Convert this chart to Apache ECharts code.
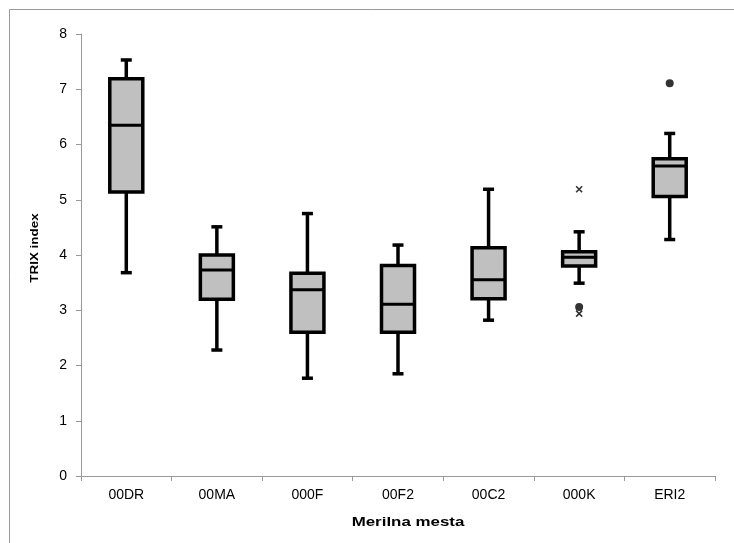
<!DOCTYPE html>
<html>
<head>
<meta charset="utf-8">
<script src="https://cdn.jsdelivr.net/npm/echarts@6/dist/echarts.min.js"></script>
<style>
  html, body { margin: 0; padding: 0; background: #fff; }
  #chart { width: 734px; height: 543px; }
</style>
</head>
<body>
<div id="chart"></div>
<script>
// Measuring sites and TRIX index box statistics
const categories = ['00DR', '00MA', '000F', '00F2', '00C2', '000K', 'ERI2'];
const whiskerLow  = [3.68, 2.28, 1.77, 1.85, 2.82, 3.49, 4.28];
const quartile1   = [5.14, 3.20, 2.60, 2.60, 3.21, 3.80, 5.06];
const medians     = [6.35, 3.73, 3.37, 3.11, 3.55, 3.96, 5.61];
const quartile3   = [7.19, 4.00, 3.67, 3.81, 4.13, 4.06, 5.74];
const whiskerHigh = [7.53, 4.51, 4.75, 4.18, 5.19, 4.42, 6.20];

// Outliers: dots and crosses
const outlierDots    = [['000K', 3.06], ['ERI2', 7.11]];
const outlierCrosses = [['000K', 5.19], ['000K', 2.94]];

const yTicks = [0, 1, 2, 3, 4, 5, 6, 7, 8];

const boxRows = categories.map((c, i) => [i, whiskerLow[i], quartile1[i], medians[i], quartile3[i], whiskerHigh[i]]);

function renderBox(params, api) {
  const idx = api.value(0);
  const pLow = api.coord([idx, api.value(1)]);
  const pQ1 = api.coord([idx, api.value(2)]);
  const pMed = api.coord([idx, api.value(3)]);
  const pQ3 = api.coord([idx, api.value(4)]);
  const pHigh = api.coord([idx, api.value(5)]);
  const cx = pLow[0];
  const halfBox = 16.5;
  const halfCap = 5.5;
  const line = { stroke: '#000', lineWidth: 3.5 };
  return {
    type: 'group',
    children: [
      { type: 'line', shape: { x1: cx, y1: pHigh[1], x2: cx, y2: pQ3[1] }, style: line },
      { type: 'line', shape: { x1: cx, y1: pQ1[1], x2: cx, y2: pLow[1] }, style: line },
      { type: 'line', shape: { x1: cx - halfCap, y1: pHigh[1], x2: cx + halfCap, y2: pHigh[1] }, style: line },
      { type: 'line', shape: { x1: cx - halfCap, y1: pLow[1], x2: cx + halfCap, y2: pLow[1] }, style: line },
      { type: 'rect', shape: { x: cx - halfBox, y: pQ3[1], width: halfBox * 2, height: pQ1[1] - pQ3[1] },
        style: { fill: '#c0c0c0', stroke: '#000', lineWidth: 3.5 } },
      { type: 'line', shape: { x1: cx - halfBox, y1: pMed[1], x2: cx + halfBox, y2: pMed[1] }, style: { stroke: '#000', lineWidth: 3 } }
    ]
  };
}

const chart = echarts.init(document.getElementById('chart'), null, { renderer: 'canvas' });
chart.setOption({
  animation: false,
  backgroundColor: '#fff',
  textStyle: { fontFamily: '"Liberation Sans", Arial, sans-serif' },
  grid: { left: 81, right: 19, top: 34, bottom: 67 },
  xAxis: {
    type: 'category',
    data: categories,
    boundaryGap: true,
    axisLine: { lineStyle: { color: '#999', width: 1 } },
    axisTick: { show: true, length: 5, lineStyle: { color: '#999' }, alignWithLabel: false },
    axisLabel: { color: '#000', fontSize: 14, margin: 12 },
    splitLine: { show: false }
  },
  yAxis: {
    type: 'value',
    min: yTicks[0],
    max: yTicks[yTicks.length - 1],
    interval: 1,
    axisLine: { show: true, lineStyle: { color: '#999', width: 1 } },
    axisTick: { show: true, length: 5, lineStyle: { color: '#999' } },
    axisLabel: { color: '#000', fontSize: 14, margin: 14 },
    splitLine: { show: false }
  },
  graphic: [
    { type: 'rect', shape: { x: 9.5, y: 9.5, width: 900, height: 700 },
      style: { fill: 'none', stroke: '#999', lineWidth: 1 }, silent: true, z: -10 },
    { type: 'text', x: 35, y: 248, rotation: Math.PI / 2, scaleX: 1.22,
      style: { text: 'TRIX index', fontSize: 11, fontWeight: 'bold', fill: '#000',
               fontFamily: '"Liberation Sans", Arial, sans-serif',
               align: 'center', verticalAlign: 'middle' } },
    { type: 'text', x: 408, y: 522, scaleX: 1.3,
      style: { text: 'Merilna mesta', fontSize: 13, fontWeight: 'bold', fill: '#000',
               fontFamily: '"Liberation Sans", Arial, sans-serif',
               align: 'center', verticalAlign: 'middle' } }
  ],
  series: [
    {
      type: 'custom',
      renderItem: renderBox,
      encode: { x: 0, y: [1, 2, 3, 4, 5] },
      data: boxRows,
      z: 2
    },
    {
      type: 'scatter',
      data: outlierDots,
      symbol: 'circle',
      symbolSize: 8,
      itemStyle: { color: '#000' },
      z: 3
    },
    {
      type: 'scatter',
      data: outlierCrosses,
      symbol: 'path://M0,0 L10,10 M10,0 L0,10',
      symbolSize: 6,
      itemStyle: { color: 'none', borderColor: '#000', borderWidth: 1.6 },
      z: 3
    }
  ]
});
</script>
</body>
</html>
